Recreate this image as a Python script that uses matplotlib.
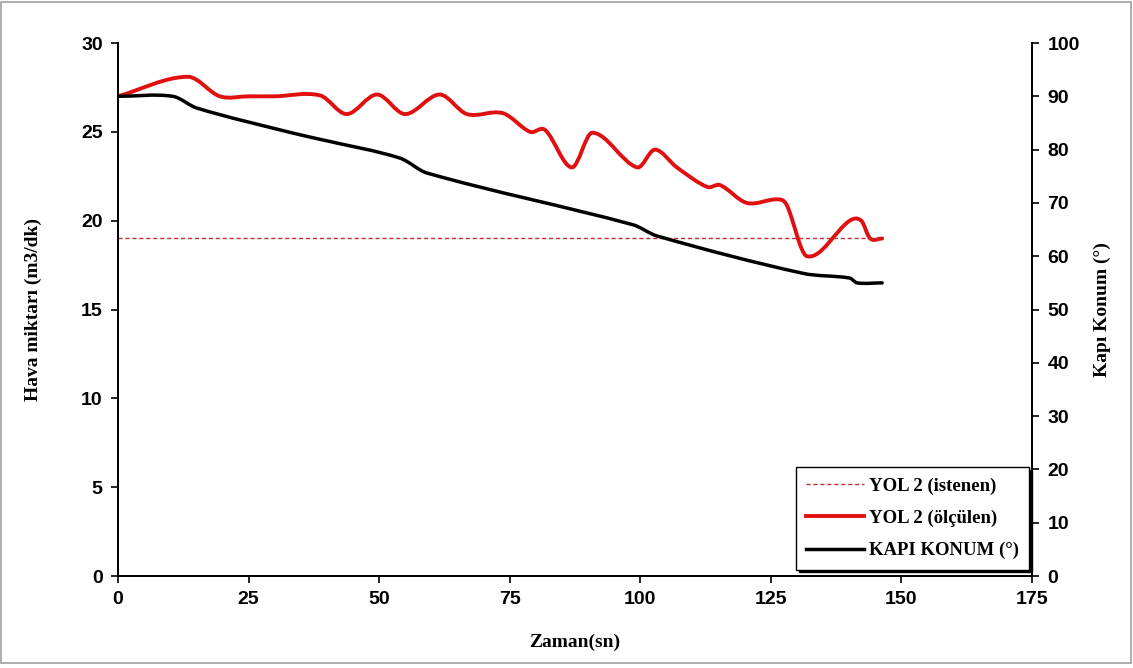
import numpy as np
import matplotlib
matplotlib.use("Agg")
import matplotlib.pyplot as plt
from matplotlib.path import Path
from matplotlib.patches import PathPatch, Rectangle
from matplotlib.lines import Line2D

# okunan degerler
zaman_olculen = [0, 13.4, 19.5, 25, 30, 38.7, 43.8, 49.6, 55, 61.6, 66.8, 73.7,
                 78.9, 81.8, 86.9, 90.8, 99.4, 102.8, 107, 112.8, 115.3, 120.4, 126.2,
                 128, 131.9, 140.1, 142.3, 144, 146.3]
hava_olculen = [27, 28.1, 27.0, 27.0, 27.0, 27.05, 26, 27.1, 26, 27.1, 26, 26.05,
                25, 25.1, 23, 24.95, 23, 24, 23, 21.9, 22, 21, 21.2,
                20.9, 18, 20, 20, 19, 19]

zaman_istenen = [0, 146.3]
hava_istenen = [19, 19]

zaman_kapi = [0, 10.5, 15.1, 33.5, 39.3, 54, 59.2, 98.6, 103.2, 131.1, 140.1, 141.5, 146.3]
kapi_konum = [90, 90, 87.8, 83.1, 81.8, 78.4, 75.6, 65.9, 63.8, 56.8, 55.9, 55, 55]


def yumusak(ax, x, y, **kw):
    # yumusatilmis cizgi: x'e gore hermite egrisi, bezier olarak cizilir
    x = np.asarray(x, float)
    y = np.asarray(y, float)
    n = len(x)
    m = np.zeros(n)
    m[0] = (y[1] - y[0]) / (x[1] - x[0])
    m[-1] = (y[-1] - y[-2]) / (x[-1] - x[-2])
    for i in range(1, n - 1):
        m[i] = (y[i + 1] - y[i - 1]) / (x[i + 1] - x[i - 1])
    verts = [(x[0], y[0])]
    codes = [Path.MOVETO]
    for i in range(n - 1):
        h = (x[i + 1] - x[i]) / 3
        verts += [(x[i] + h, y[i] + h * m[i]),
                  (x[i + 1] - h, y[i + 1] - h * m[i + 1]),
                  (x[i + 1], y[i + 1])]
        codes += [Path.CURVE4] * 3
    patch = PathPatch(Path(verts, codes), fill=False, transform=ax.transData,
                      capstyle="round", joinstyle="round", **kw)
    ax.add_patch(patch)


fig = plt.figure(figsize=(11.33, 6.68), dpi=100)
ax = fig.add_axes([0.1041, 0.1377, 0.8068, 0.7979])
ax2 = ax.twinx()

kirmizi = "#e01010"
ax.plot(zaman_istenen, hava_istenen, color="#c03030", lw=1, linestyle=(0, (3, 2)))
yumusak(ax, zaman_olculen, hava_olculen, edgecolor=kirmizi, lw=2.8)
yumusak(ax2, zaman_kapi, kapi_konum, edgecolor="black", lw=2.5)

ax.set_xlim(0, 175)
ax.set_ylim(0, 30)
ax2.set_ylim(0, 100)
ax.set_xticks(np.arange(0, 176, 25))
ax.set_yticks(np.arange(0, 31, 5))
ax2.set_yticks(np.arange(0, 101, 10))

for a in (ax, ax2):
    a.spines["top"].set_visible(False)
    a.tick_params(direction="out", length=5, width=1.2, pad=6)
    for s in a.spines.values():
        s.set_linewidth(1.3)
    for lab in a.get_xticklabels() + a.get_yticklabels():
        lab.set_fontfamily("Liberation Sans")
        lab.set_fontweight("bold")
        lab.set_fontsize(14)

etiket = {"family": "Liberation Serif", "weight": "bold", "size": 14}
ax.set_xlabel("Zaman(sn)", fontdict=etiket, labelpad=18)
ax.set_ylabel("Hava miktarı (m3/dk)", fontdict=etiket, labelpad=28)
ax2.set_ylabel("Kapı Konum (°)", fontdict=etiket, labelpad=10)

handles = [
    Line2D([], [], color="#c03030", lw=1, linestyle=(0, (3, 2))),
    Line2D([], [], color=kirmizi, lw=2.8),
    Line2D([], [], color="black", lw=2.5),
]
labels = ["YOL 2 (istenen)", "YOL 2 (ölçülen)", "KAPI KONUM (°)"]
leg = ax2.legend(handles, labels, loc="lower right", bbox_to_anchor=(0.997, 0.012),
                 borderaxespad=0, fancybox=False, edgecolor="black", framealpha=1,
                 shadow={"color": "black", "alpha": 1}, handlelength=3.1,
                 labelspacing=0.8, handletextpad=0.25, borderpad=0.55,
                 prop={"family": "Liberation Serif", "weight": "bold", "size": 13.5})
leg.get_frame().set_linewidth(1)

fig.patches.append(Rectangle((0.001, 0.007), 0.997, 0.99, transform=fig.transFigure,
                             fill=False, edgecolor="#a0a0a0", lw=1.2))

fig.savefig("out.png", dpi=100)
